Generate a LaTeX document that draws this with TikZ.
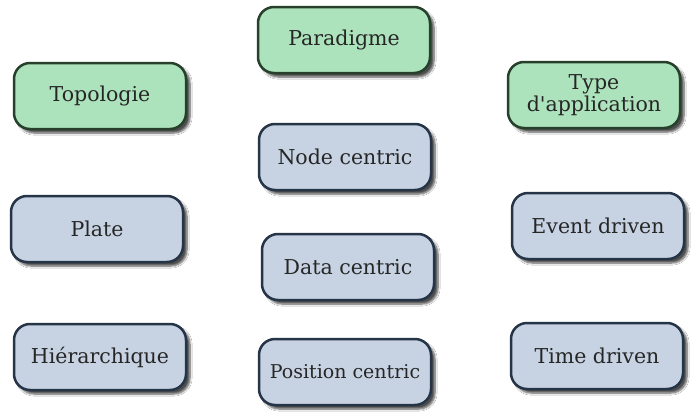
\documentclass[tikz,border=0pt]{standalone}
\usepackage{fontspec}
\setmainfont{DejaVu Serif}[Ligatures=TeXOff]
\usetikzlibrary{shadows.blur}
\definecolor{greenfill}{HTML}{ADE3BC}
\definecolor{greenline}{HTML}{26402C}
\definecolor{bluefill}{HTML}{C7D3E3}
\definecolor{blueline}{HTML}{263447}
\definecolor{txt}{HTML}{262626}
\tikzset{
  box/.style={rounded corners=16pt, line width=2.5pt, minimum width=172pt, minimum height=66pt,
    inner sep=2pt, align=center, text=txt, font=\fontsize{20.5}{21}\selectfont,
    blur shadow={shadow xshift=4pt, shadow yshift=-4pt, shadow blur steps=6, shadow opacity=70}},
  headbox/.style={box, draw=greenline, fill=greenfill},
  itembox/.style={box, draw=blueline, fill=bluefill}
}
\begin{document}
\begin{tikzpicture}[x=1pt,y=-1pt]
\useasboundingbox (0,0) rectangle (694,418);
\fill[white] (0,0) rectangle (694,418);
\node[headbox] (topo) at (100,96) {Topologie};
\node[headbox] (para) at (344,40) {Paradigme};
\node[headbox, font=\fontsize{20.5}{22}\selectfont] (type) at (594,95) {Type\\d'application};
\node[itembox] (node) at (345,157) {Node centric};
\node[itembox] (data) at (348,267) {Data centric};
\node[itembox, font=\fontsize{19}{20}\selectfont] (pos) at (345,372) {Position centric};
\node[itembox] (plate) at (97,229) {Plate};
\node[itembox] (hier) at (100,357) {Hiérarchique};
\node[itembox] (event) at (598,226) {Event driven};
\node[itembox] (time) at (597,356) {Time driven};
\end{tikzpicture}
\end{document}
